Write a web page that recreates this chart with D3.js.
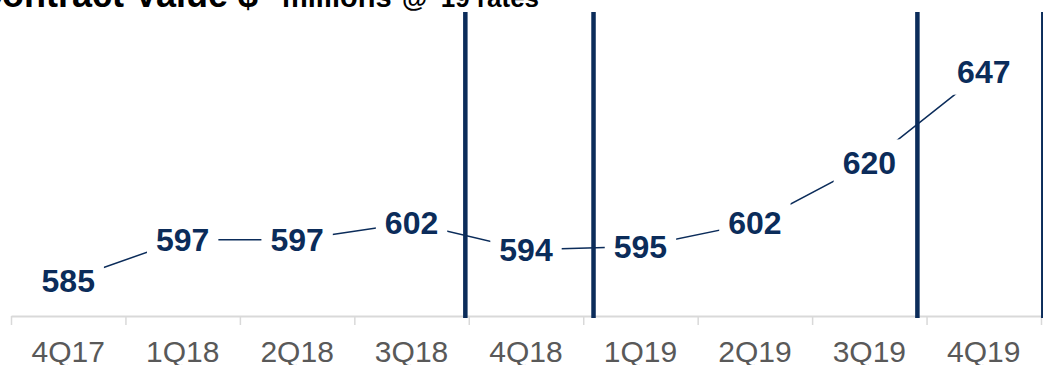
<!DOCTYPE html>
<html>
<head>
<meta charset="utf-8">
<script src="https://cdn.jsdelivr.net/npm/d3@7"></script>
<style>
  html, body { margin: 0; padding: 0; background: #fff; overflow: hidden; }
  svg { display: block; font-family: "Liberation Sans", Arial, sans-serif; }
</style>
</head>
<body>
<svg id="chart" width="1043" height="365"></svg>
<script>
// Quarterly contract value, $ millions at '19 rates
const quarters = ["4Q17", "1Q18", "2Q18", "3Q18", "4Q18", "1Q19", "2Q19", "3Q19", "4Q19"];
const contractValue = [585, 597, 597, 602, 594, 595, 602, 620, 647];
// period dividers, expressed in category units from the axis start
const dividerAt = [3.97, 5.09, 7.92, 9.02];
const titleParts = ["Contract Value $", "millions", "@ '19 rates"];

const navy = "#0b2c5a";
const axisY = 316;

const svg = d3.select("#chart");

const x = d3.scaleBand().domain(quarters).range([11, 1041]).paddingInner(0).paddingOuter(0);
const xEdge = d3.scaleLinear().domain([0, quarters.length]).range([11, 1041]);
const y = d3.scaleLinear().domain([560, 660]).range([364, 28]);

// x axis: boundary ticks
const edgeAxis = svg.append("g")
  .attr("transform", `translate(0,${axisY})`)
  .call(d3.axisBottom(xEdge).tickValues(d3.range(quarters.length + 1)).tickSize(9).tickSizeOuter(0).tickFormat(""));
edgeAxis.select(".domain").attr("stroke", "#d9d9d9").attr("stroke-width", 2);
edgeAxis.selectAll(".tick line").attr("stroke", "#d9d9d9").attr("stroke-width", 1.5);

// x axis: quarter labels
const labelAxis = svg.append("g")
  .attr("transform", `translate(0,${axisY})`)
  .call(d3.axisBottom(x).tickSize(0).tickPadding(25));
labelAxis.select(".domain").remove();
labelAxis.selectAll("text")
  .attr("fill", "#595959")
  .style("font-size", "30px")
  .style("font-family", "'Liberation Sans', Arial, sans-serif");

// series line
const pts = quarters.map((q, i) => ({ q, v: contractValue[i] }));
svg.append("path")
  .datum(pts)
  .attr("fill", "none")
  .attr("stroke", navy)
  .attr("stroke-width", 1.5)
  .attr("d", d3.line().x(d => x(d.q) + x.bandwidth() / 2).y(d => y(d.v)));

// value labels on white boxes
const lab = svg.append("g").selectAll("g").data(pts).join("g")
  .attr("transform", d => `translate(${x(d.q) + x.bandwidth() / 2},${y(d.v)})`);
lab.append("rect").attr("fill", "#fff");
lab.append("text")
  .attr("text-anchor", "middle")
  .attr("dy", "0.36em")
  .attr("fill", navy)
  .style("font-size", "32px")
  .style("font-weight", "bold")
  .text(d => d3.format("d")(d.v));
lab.each(function () {
  const g = d3.select(this);
  const w = g.select("text").node().getComputedTextLength() + 18;
  g.select("rect").attr("x", -w / 2).attr("y", -23).attr("width", w).attr("height", 46);
});

// period dividers
svg.append("g").selectAll("line").data(dividerAt).join("line")
  .attr("x1", d => xEdge(d)).attr("x2", d => xEdge(d))
  .attr("y1", 12).attr("y2", 318)
  .attr("stroke", navy)
  .attr("stroke-width", 4.5);

// title (runs off the top edge)
const title = svg.append("text").attr("y", 7).attr("fill", "#000").style("font-weight", "bold");
title.append("tspan").attr("x", -24).style("font-size", "36px").text(titleParts[0]);
title.append("tspan").attr("x", 282).style("font-size", "29px").text(titleParts[1]);
title.append("tspan").attr("x", 402).style("font-size", "26px").text(titleParts[2]);
</script>
</body>
</html>
